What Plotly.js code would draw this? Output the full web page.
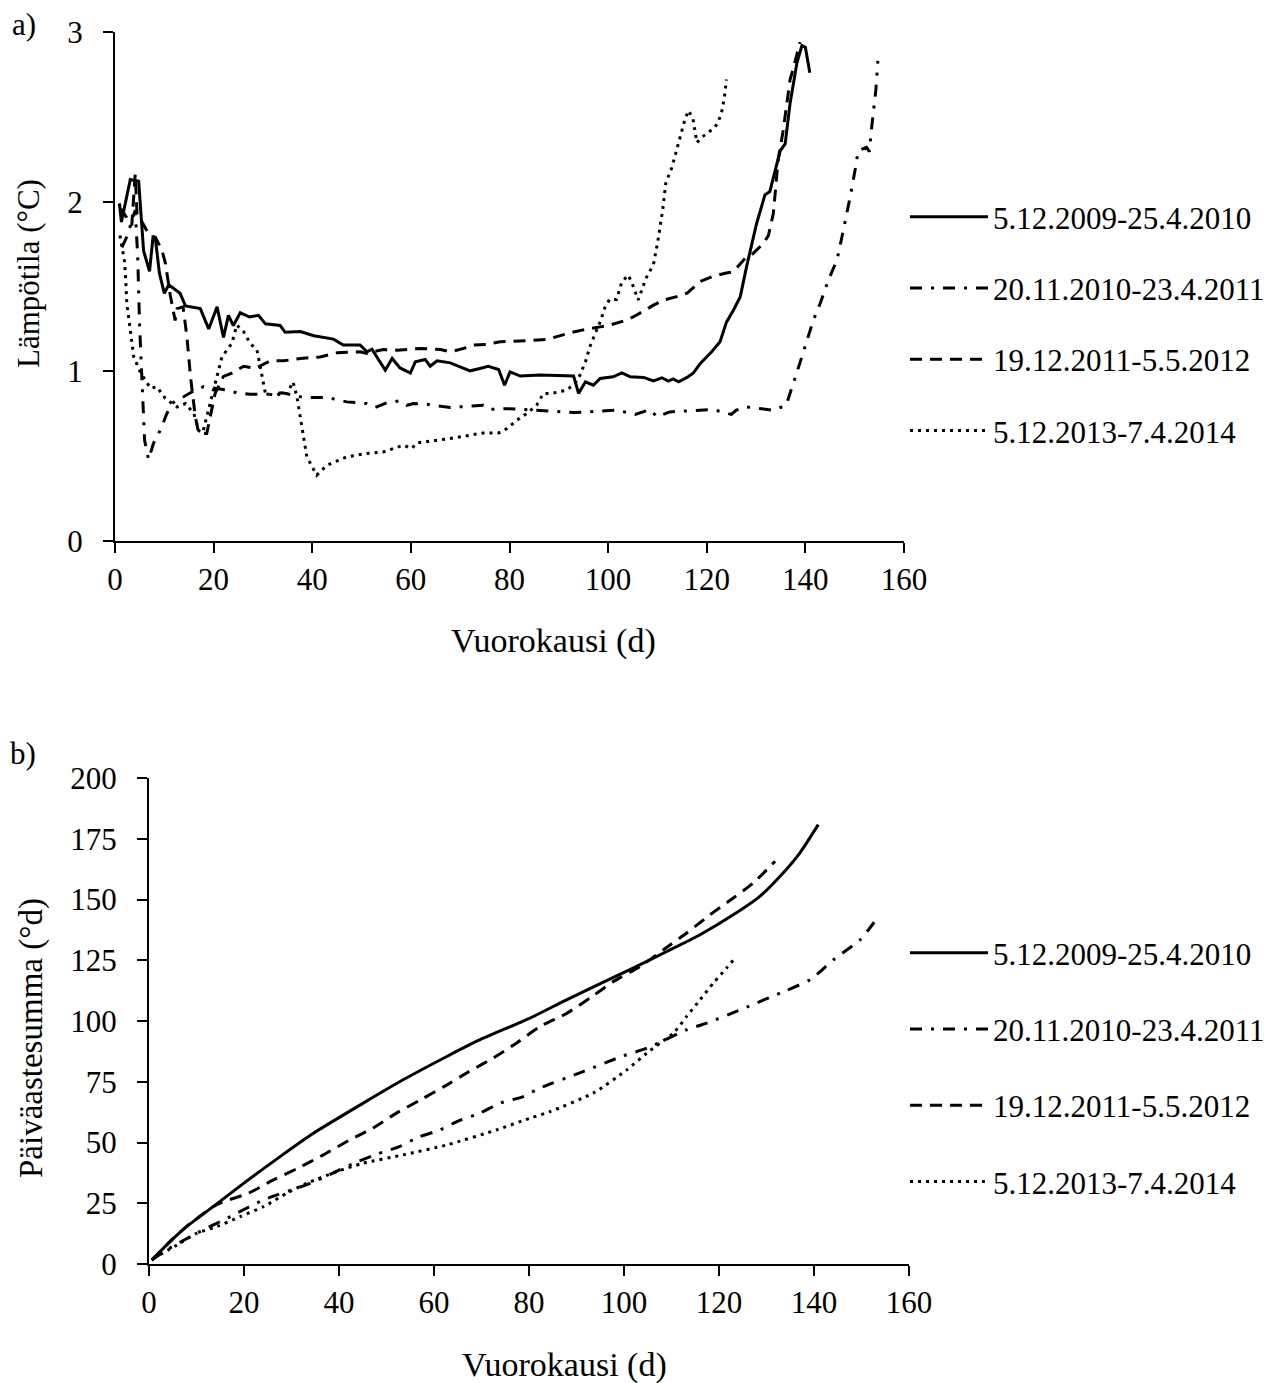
<!DOCTYPE html>
<html>
<head>
<meta charset="utf-8">
<script src="https://cdn.plot.ly/plotly-3.0.1.min.js"></script>
<style>html,body{margin:0;padding:0;background:#fff;}#chart{width:1284px;height:1383px;}</style>
</head>
<body>
<div id="chart"></div>
<script>
// ---- series names ----
const seriesNames = ["5.12.2009-25.4.2010", "20.11.2010-23.4.2011", "19.12.2011-5.5.2012", "5.12.2013-7.4.2014"];

// ---- a) daily temperature (°C) ----
const dayA1 = [0.9,1.3,3.1,4.8,5.8,7.0,7.7,8.2,9.0,10.0,10.9,13.2,14.3,17.3,19.0,20.7,22.0,23.0,24.0,25.4,27.3,29.1,30.5,33.5,34.5,37.6,40.3,44.3,46.3,49.7,51.1,52.1,54.8,56.2,57.8,59.9,60.9,62.9,63.9,65.3,68.0,70.0,72.0,74.0,75.7,77.8,79.0,80.1,82.2,86.2,90.3,93.0,94.0,95.4,97.0,98.4,101.0,102.8,104.5,107.2,109.2,110.9,112.2,113.2,114.3,116.0,117.3,118.7,121.0,122.7,124.0,125.4,126.8,128.1,130.1,131.8,132.8,134.9,135.9,136.9,138.3,139.3,140.0,140.9];
const tempA1 = [1.99,1.88,2.13,2.12,1.71,1.59,1.79,1.78,1.58,1.46,1.51,1.46,1.385,1.37,1.25,1.38,1.20,1.33,1.27,1.345,1.32,1.33,1.28,1.27,1.23,1.235,1.21,1.19,1.155,1.155,1.115,1.13,1.007,1.076,1.02,0.99,1.056,1.07,1.03,1.062,1.05,1.027,1.003,1.017,1.03,1.011,0.918,0.997,0.972,0.978,0.972,0.972,0.87,0.938,0.918,0.958,0.968,0.991,0.968,0.964,0.944,0.962,0.942,0.955,0.938,0.964,0.991,1.047,1.115,1.174,1.29,1.36,1.44,1.62,1.87,2.04,2.06,2.30,2.34,2.58,2.82,2.92,2.91,2.76];

const dayA2 = [1.4,2.5,4.1,4.6,5.0,5.5,6.0,6.8,7.8,9.3,10.5,11.6,12.5,13.9,16.0,18.0,20.0,22.7,24.7,27.4,31.5,33.9,36.2,38.2,43.0,47.0,51.0,52.8,55.1,57.8,59.2,60.5,63.2,68.0,74.7,76.0,79.8,85.5,93.0,101.8,105.5,108.5,109.9,112.5,121.3,125.0,126.0,128.1,133.5,136.1,137.6,138.9,141.6,143.0,144.7,146.4,147.4,148.4,149.2,150.1,150.7,152.4,153.0,153.3,153.8,154.3,154.7];
const tempA2 = [1.73,1.80,1.95,1.68,1.26,0.89,0.594,0.48,0.575,0.66,0.75,0.81,0.83,0.85,0.885,0.91,0.90,0.89,0.873,0.865,0.865,0.873,0.86,0.846,0.846,0.82,0.81,0.787,0.814,0.826,0.80,0.81,0.806,0.787,0.80,0.776,0.78,0.77,0.757,0.771,0.746,0.775,0.732,0.761,0.775,0.746,0.771,0.79,0.771,0.80,0.93,1.05,1.30,1.40,1.54,1.656,1.79,1.93,2.045,2.19,2.30,2.32,2.295,2.40,2.54,2.66,2.83];

const dayA3 = [0.9,1.4,2.5,3.4,4.1,4.5,5.5,6.8,8.2,9.5,10.2,11.2,12.2,12.6,13.8,14.6,15.3,16.3,17.0,18.6,19.3,20.3,22.0,23.7,26.1,28.4,31.5,34.2,37.6,41.6,45.0,49.7,51.1,54.4,57.2,61.9,66.0,68.0,70.7,72.7,75.4,78.1,83.5,87.6,92.3,94.7,98.4,100.4,103.8,105.8,109.2,111.2,113.9,116.0,118.7,121.3,124.0,125.4,127.8,129.1,131.5,132.5,133.5,134.2,134.5,135.5,136.2,136.9,137.6,138.6,138.9];
const tempA3 = [1.94,1.95,1.90,1.86,2.16,1.91,1.88,1.81,1.79,1.715,1.64,1.45,1.30,1.37,1.38,1.20,0.97,0.73,0.634,0.634,0.73,0.87,0.97,0.99,1.03,1.017,1.062,1.062,1.076,1.085,1.109,1.115,1.106,1.129,1.125,1.135,1.129,1.115,1.135,1.155,1.159,1.174,1.18,1.188,1.227,1.243,1.262,1.273,1.302,1.332,1.39,1.42,1.44,1.46,1.53,1.56,1.58,1.587,1.666,1.686,1.755,1.80,1.93,2.13,2.25,2.42,2.58,2.72,2.79,2.91,2.94];

const dayA4 = [1.0,1.4,1.9,2.1,2.4,3.1,3.8,5.1,7.2,8.5,10.2,12.6,14.3,16.0,17.0,17.8,18.6,20.3,21.7,23.7,24.7,26.1,27.4,28.8,29.8,30.5,32.1,34.9,36.1,36.9,37.9,38.9,40.9,43.0,47.0,51.1,54.4,57.5,58.5,60.2,61.2,68.0,74.7,77.8,79.5,81.5,83.5,85.5,86.9,88.5,91.6,93.3,94.3,95.4,96.3,97.4,98.4,99.4,100.3,101.7,102.8,104.1,105.1,106.1,107.7,109.2,110.1,111.1,111.7,112.9,114.6,115.6,116.3,117.2,118.0,119.0,120.3,121.7,122.4,123.0,123.6,124.0];
const tempA4 = [1.80,1.73,1.656,1.58,1.40,1.243,1.086,0.997,0.90,0.909,0.84,0.79,0.81,0.75,0.65,0.64,0.73,0.93,1.086,1.165,1.273,1.233,1.165,1.125,0.968,0.87,0.86,0.87,0.938,0.85,0.673,0.496,0.388,0.447,0.496,0.516,0.525,0.555,0.565,0.545,0.578,0.604,0.637,0.637,0.663,0.712,0.752,0.80,0.87,0.87,0.889,0.929,0.978,1.056,1.145,1.224,1.292,1.38,1.424,1.424,1.528,1.567,1.50,1.42,1.55,1.63,1.77,1.96,2.11,2.20,2.39,2.486,2.537,2.49,2.348,2.38,2.407,2.44,2.476,2.525,2.62,2.72];

// ---- b) cumulative degree days (°d) ----
const dayB1 = [0.6,4.8,7.9,13.5,19.9,27.6,34.6,45.1,53.5,62.7,69.7,80.2,87.9,101.9,109,116,123,128.6,133.5,137,140.9];
const sumB1 = [1.6,9.9,15.4,23.6,33.2,44.2,53.8,66.2,75.8,85.4,92.3,101.2,108.7,121.8,128.6,135.5,143.7,151.3,160.9,169.1,180.8];

const dayB2 = [0.6,3.7,10,17.1,24.1,33.9,43.7,48.1,52.7,56.7,61.3,65.3,69.7,73.9,78.8,82.3,91.4,99.9,104.8,113.2,117.4,125.8,134.2,139.2,144.1,149.7,153.5];
const sumB2 = [1.6,5.8,12.6,19.5,26.4,33.2,41.9,45.3,48.3,52.2,55.2,59,62.1,66.2,68.9,72.4,79.2,85.7,88.8,96.4,99.1,105.7,112.6,117,125.2,133.4,142.8];

const dayB3 = [0.6,4.8,7.9,13.5,15.3,20.9,26.2,31.3,36.7,42.3,47.1,52.1,57.1,62.1,67.4,72.4,77.5,82.3,87.9,92.8,97.8,103.4,108.3,113.2,118.1,123,127.2,131.8];
const sumB3 = [1.6,9.9,15.4,23.6,25.4,29.1,34.6,39.4,44.9,51.1,55.9,62.1,67.5,73,79.2,84.7,91.1,97.7,103.1,109.4,116.3,122.4,129.3,136.2,143.7,150.6,156.8,165.7];

const dayB4 = [0.9,6.5,10,14.3,19.2,24.1,29,33.2,39.5,45.1,53.5,62.7,73.2,80.2,84.4,93.5,100.6,104.8,107.6,110.4,113.2,116,118.8,121.6,123.4];
const sumB4 = [2.3,8.5,12.6,15.4,19.5,23.6,29.1,33.2,38,41.5,44.9,49,55.2,60,62.7,70.3,79.9,86.8,90.9,95,101.9,108.7,115.6,121.8,125.9];

// ---- axis texts ----
const xTitle = "Vuorokausi (d)";
const yTitleA = "Lämpötila (°C)";
const yTitleB = "Päiväastesumma (°d)";
const panelLabels = ["a)", "b)"];

// ---- styling ----
const FONT = "Liberation Serif, Times New Roman, serif";
const dashes = ["solid", "12px,9px,3px,9px", "12px,8px", "3px,5px"];
const W = 1284, H = 1383;

const aDays = [dayA1, dayA2, dayA3, dayA4];
const aVals = [tempA1, tempA2, tempA3, tempA4];
const bDays = [dayB1, dayB2, dayB3, dayB4];
const bVals = [sumB1, sumB2, sumB3, sumB4];

const traces = [];
for (let i = 0; i < 4; i++) {
  traces.push({
    x: aDays[i], y: aVals[i], type: "scatter", mode: "lines",
    name: seriesNames[i], xaxis: "x", yaxis: "y",
    line: {color: "#000", width: 3, dash: dashes[i]},
    legend: "legend", legendgroup: "a" + i
  });
}
for (let i = 0; i < 4; i++) {
  traces.push({
    x: bDays[i], y: bVals[i], type: "scatter", mode: "lines",
    name: seriesNames[i], xaxis: "x2", yaxis: "y2",
    line: {color: "#000", width: 3, dash: dashes[i], shape: "spline", smoothing: 0.6},
    legend: "legend2", legendgroup: "b" + i
  });
}

function axisBase(extra) {
  return Object.assign({
    showline: true, linecolor: "#000", linewidth: 2,
    ticks: "outside", ticklen: 10, tickwidth: 2, tickcolor: "#000",
    showgrid: false, zeroline: false, fixedrange: true,
    tickfont: {family: FONT, size: 31, color: "#000"}
  }, extra);
}

function titleNote(text, x, y, size, angle) {
  return {text: text, xref: "paper", yref: "paper", x: x / W, y: 1 - y / H, showarrow: false,
    xanchor: "center", yanchor: "middle", textangle: angle || 0,
    font: {family: FONT, size: size, color: "#000"}};
}

const layout = {
  width: W, height: H,
  margin: {l: 0, r: 0, t: 0, b: 0},
  paper_bgcolor: "#fff", plot_bgcolor: "#fff",
  showlegend: true,
  font: {family: FONT, color: "#000"},
  xaxis: axisBase({domain: [115/W, 904/W], range: [0, 160], dtick: 20, tick0: 0, anchor: "y"}),
  yaxis: axisBase({domain: [1 - 541/H, 1 - 32/H], range: [0, 3], dtick: 1, tick0: 0, anchor: "x", ticklabelstandoff: 14}),
  xaxis2: axisBase({domain: [149/W, 909/W], range: [0, 160], dtick: 20, tick0: 0, anchor: "y2"}),
  yaxis2: axisBase({domain: [1 - 1264/H, 1 - 778/H], range: [0, 200], dtick: 25, tick0: 0, anchor: "x2", ticklabelstandoff: 14}),
  legend: {x: 905/W, xanchor: "left", y: 1 - 190/H, yanchor: "top",
    font: {family: FONT, size: 31, color: "#000"}, tracegroupgap: 28, bgcolor: "rgba(0,0,0,0)", itemwidth: 78},
  legend2: {x: 905/W, xanchor: "left", y: 1 - 926/H, yanchor: "top",
    font: {family: FONT, size: 31, color: "#000"}, tracegroupgap: 33, bgcolor: "rgba(0,0,0,0)", itemwidth: 78},
  annotations: [
    titleNote(panelLabels[0], 24, 24, 31),
    titleNote(panelLabels[1], 23, 753, 31),
    titleNote(xTitle, 553, 641, 34),
    titleNote(xTitle, 564, 1365, 34),
    titleNote(yTitleA, 29, 274, 31, -90),
    titleNote(yTitleB, 31, 1038, 33, -90)
  ]
};

Plotly.newPlot("chart", traces, layout, {displayModeBar: false, staticPlot: true});
</script>
</body>
</html>
